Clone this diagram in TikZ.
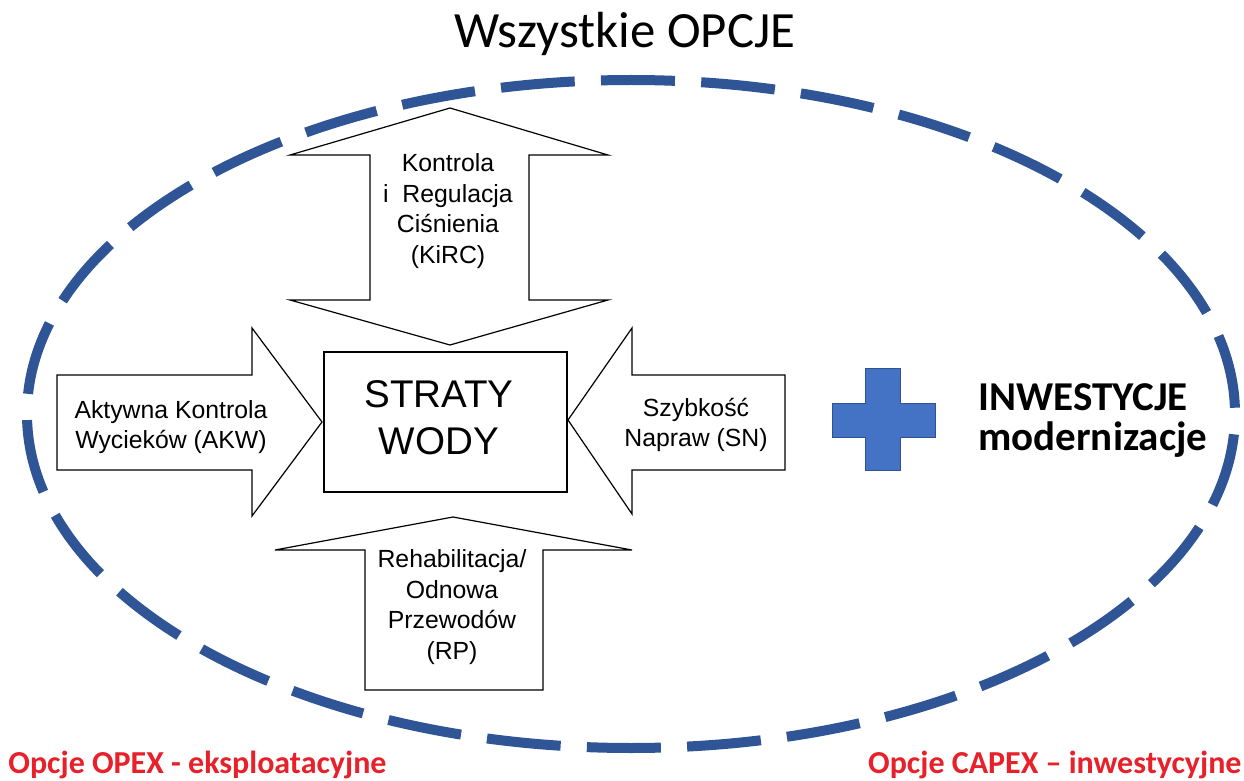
\documentclass[tikz,border=0pt]{standalone}
\usepackage{fontspec}
\setmainfont{Liberation Sans}
\newfontfamily\calibri{Carlito}
\usepackage{tikz}

\definecolor{ringblue}{RGB}{47,85,151}
\definecolor{plusblue}{RGB}{68,114,196}
\definecolor{plusedge}{RGB}{47,82,143}
\definecolor{optred}{RGB}{232,32,42}

\begin{document}
\begin{tikzpicture}[x=0.5pt,y=-0.5pt]
    \tikzstyle{blockarrow} = [draw=black, line width=0.6pt, fill=white, line join=miter]
    \tikzstyle{arrowtext} = [align=center, inner sep=0pt, font=\fontsize{12.4}{15.2}\selectfont]
    \tikzstyle{lossbox} = [draw=black, line width=0.6pt, minimum width=121.5pt, minimum height=70pt, inner sep=0pt]
    \tikzstyle{opttext} = [inner sep=0pt, text=optred, font=\calibri\bfseries\fontsize{16}{19}\selectfont]

    \useasboundingbox (0,0) rectangle (1244,781);

    % Dashed ring round all options
    \draw[ringblue, line width=5pt, dash pattern=on 37pt off 13.137pt, dash phase=47pt]
        (631,414) ellipse [x radius=302pt, y radius=167pt];

    % Block arrows pointing at the box
    \draw[blockarrow] (450,108) -- (608,155) -- (529,155) -- (529,300) -- (608,300) -- (450,345)
        -- (290,300) -- (370,300) -- (370,155) -- (290,155) -- cycle;
    \draw[blockarrow] (453,517) -- (632,550) -- (543,550) -- (543,690) -- (365,690) -- (365,550)
        -- (275,550) -- cycle;
    \draw[blockarrow] (57,375) -- (252,375) -- (252,328) -- (322,422) -- (252,516) -- (252,470)
        -- (57,470) -- cycle;
    \draw[blockarrow] (785,375) -- (632,375) -- (632,328) -- (568,420) -- (632,514) -- (632,470)
        -- (785,470) -- cycle;

    % Central box
    \node[lossbox] (straty) at (445.5,422) {};
    \node[align=center, inner sep=0pt, font=\fontsize{19.3}{23.5}\selectfont] (stratytext) at (439,418) {STRATY\\WODY};

    % Arrow labels
    \node[arrowtext] (kirc) at (448,211) {Kontrola\\i~~Regulacja\\Ciśnienia\\(KiRC)};
    \node[arrowtext] (rp) at (452,607) {Rehabilitacja/\\Odnowa\\Przewodów\\(RP)};
    \node[arrowtext] (akw) at (171,427) {Aktywna Kontrola\\Wycieków (AKW)};
    \node[arrowtext] (sn) at (696,425) {Szybkość\\Napraw (SN)};

    % Plus sign
    \fill[plusblue, draw=plusedge, line width=0.4pt] (865,368) -- (900,368) -- (900,403) -- (935,403)
        -- (935,437) -- (900,437) -- (900,470) -- (865,470) -- (865,437) -- (832,437) -- (832,403)
        -- (865,403) -- cycle;

    \node[anchor=base west, inner sep=0pt, font=\calibri\bfseries\fontsize{20.5}{20}\selectfont] (inwest) at (978,410) {INWESTYCJE};
    \node[anchor=base west, inner sep=0pt, font=\calibri\bfseries\fontsize{20.5}{20}\selectfont] (modern) at (978,450) {modernizacje};

    % Titles
    \node[anchor=base, inner sep=0pt, font=\calibri\fontsize{25.4}{30}\selectfont] (title) at (625,48) {Wszystkie OPCJE};
    \node[opttext, anchor=base west] (opex) at (8,773) {Opcje OPEX - eksploatacyjne};
    \node[opttext, anchor=base east] (capex) at (1242,773) {Opcje CAPEX – inwestycyjne};
\end{tikzpicture}
\end{document}
